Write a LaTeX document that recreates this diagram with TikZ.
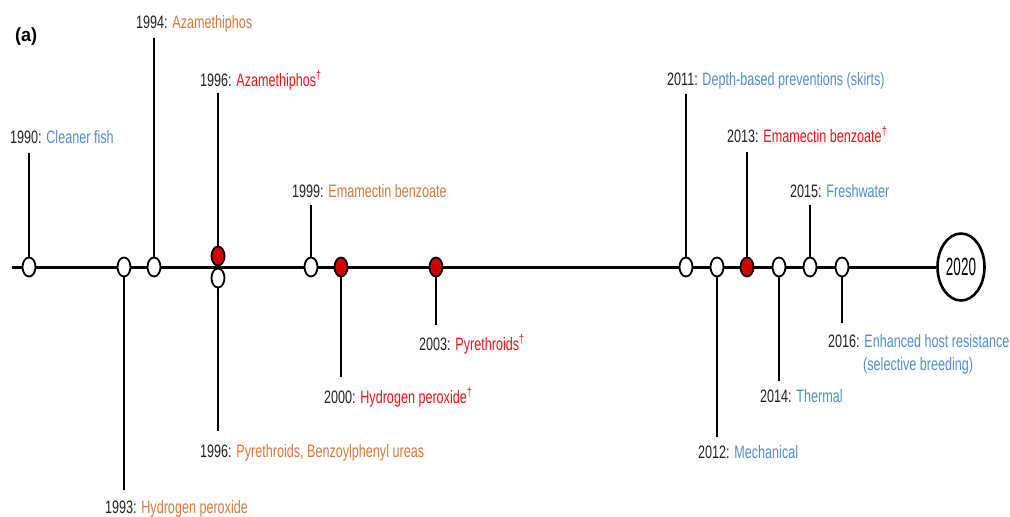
\documentclass[tikz,border=0pt]{standalone}
\usepackage{fontspec}
\setmainfont{Liberation Sans}[FakeStretch=0.70]
\newfontfamily\tagfont{Liberation Sans}[FakeStretch=0.95]
\newfontfamily\endfont{Liberation Sans}[FakeStretch=0.54]
\usetikzlibrary{backgrounds,shapes.geometric}
\definecolor{cblue}{HTML}{4F8FCF}
\definecolor{corange}{HTML}{D9783A}
\definecolor{cred}{HTML}{E8141B}
\definecolor{cfill}{HTML}{D40000}
\definecolor{cyear}{HTML}{202020}
\tikzset{
  dot/.style={ellipse, draw=black, line width=1.8pt, fill=white, minimum width=13pt, minimum height=19pt, inner sep=0pt},
  reddot/.style={dot, fill=cfill},
  lab/.style={anchor=base west, inner sep=0pt, font=\fontsize{18}{23}\selectfont, text=cyear},
  stem/.style={line width=1.7pt, black},
  mainline/.style={line width=3pt, black}
}
\newcommand{\dg}{\textsuperscript{\textdagger}}
\begin{document}
\begin{tikzpicture}[x=1pt,y=-1pt]
\useasboundingbox (0,0) rectangle (1010,517);
\node[anchor=base west, inner sep=0pt, font=\tagfont\fontsize{19}{22}\selectfont\bfseries] (tag) at (15,41) {(a)};
% timeline
\coordinate (start) at (12,267);
\node[ellipse, draw=black, line width=2.6pt, fill=white, minimum width=47pt, minimum height=67pt, inner sep=0pt, font=\endfont\fontsize{25}{28}\selectfont] (y2020) at (961,267) {2020};
% dots
\node[dot] (c1990) at (29,267) {};
\node[dot] (c1993) at (124,267) {};
\node[dot] (c1994) at (154,267) {};
\node[reddot] (c1996a) at (218,256) {};
\node[dot] (c1996b) at (218,278) {};
\node[dot] (c1999) at (311,267) {};
\node[reddot] (c2000) at (341,267) {};
\node[reddot] (c2003) at (436,267) {};
\node[dot] (c2011) at (686,267) {};
\node[dot] (c2012) at (717,267) {};
\node[reddot] (c2013) at (747,267) {};
\node[dot] (c2014) at (779,267) {};
\node[dot] (c2015) at (810,267) {};
\node[dot] (c2016) at (842,267) {};
% stem ends
\coordinate (e1990) at (29,153);
\coordinate (e1993) at (124,490);
\coordinate (e1994) at (154,38);
\coordinate (e1996a) at (218,93);
\coordinate (e1996b) at (218,431);
\coordinate (e1999) at (311,205);
\coordinate (e2000) at (341,377);
\coordinate (e2003) at (436,325);
\coordinate (e2011) at (686,94);
\coordinate (e2012) at (717,437);
\coordinate (e2013) at (747,152);
\coordinate (e2014) at (779,381);
\coordinate (e2015) at (810,205);
\coordinate (e2016) at (842,323);
% labels
\node[lab] (l1990) at (10,143) {1990: \textcolor{cblue}{Cleaner fish}};
\node[lab] (l1993) at (105,513) {1993: \textcolor{corange}{Hydrogen peroxide}};
\node[lab] (l1994) at (136,28) {1994: \textcolor{corange}{Azamethiphos}};
\node[lab] (l1996a) at (200,86) {1996: \textcolor{cred}{Azamethiphos\dg}};
\node[lab] (l1996b) at (200,457) {1996: \textcolor{corange}{Pyrethroids, Benzoylphenyl ureas}};
\node[lab] (l1999) at (292,197) {1999: \textcolor{corange}{Emamectin benzoate}};
\node[lab] (l2000) at (324,403) {2000: \textcolor{cred}{Hydrogen peroxide\dg}};
\node[lab] (l2003) at (419,350) {2003: \textcolor{cred}{Pyrethroids\dg}};
\node[lab] (l2011) at (667,85) {2011: \textcolor{cblue}{Depth-based preventions (skirts)}};
\node[lab] (l2012) at (698,458) {2012: \textcolor{cblue}{Mechanical}};
\node[lab] (l2013) at (727,142) {2013: \textcolor{cred}{Emamectin benzoate\dg}};
\node[lab] (l2014) at (760,402) {2014: \textcolor{cblue}{Thermal}};
\node[lab] (l2015) at (790,197) {2015: \textcolor{cblue}{Freshwater}};
\node[lab] (l2016) at (828,347) {2016: \textcolor{cblue}{Enhanced host resistance}};
\node[lab] (l2016b) at (863,370) {\textcolor{cblue}{(selective breeding)}};
\begin{scope}[on background layer]
\draw[mainline] (start) -- (y2020.west);
\draw[stem] (c1990) -- (e1990);
\draw[stem] (c1993) -- (e1993);
\draw[stem] (c1994) -- (e1994);
\draw[stem] (c1996a) -- (e1996a);
\draw[stem] (c1996b) -- (e1996b);
\draw[stem] (c1999) -- (e1999);
\draw[stem] (c2000) -- (e2000);
\draw[stem] (c2003) -- (e2003);
\draw[stem] (c2011) -- (e2011);
\draw[stem] (c2012) -- (e2012);
\draw[stem] (c2013) -- (e2013);
\draw[stem] (c2014) -- (e2014);
\draw[stem] (c2015) -- (e2015);
\draw[stem] (c2016) -- (e2016);
\end{scope}
\end{tikzpicture}
\end{document}
